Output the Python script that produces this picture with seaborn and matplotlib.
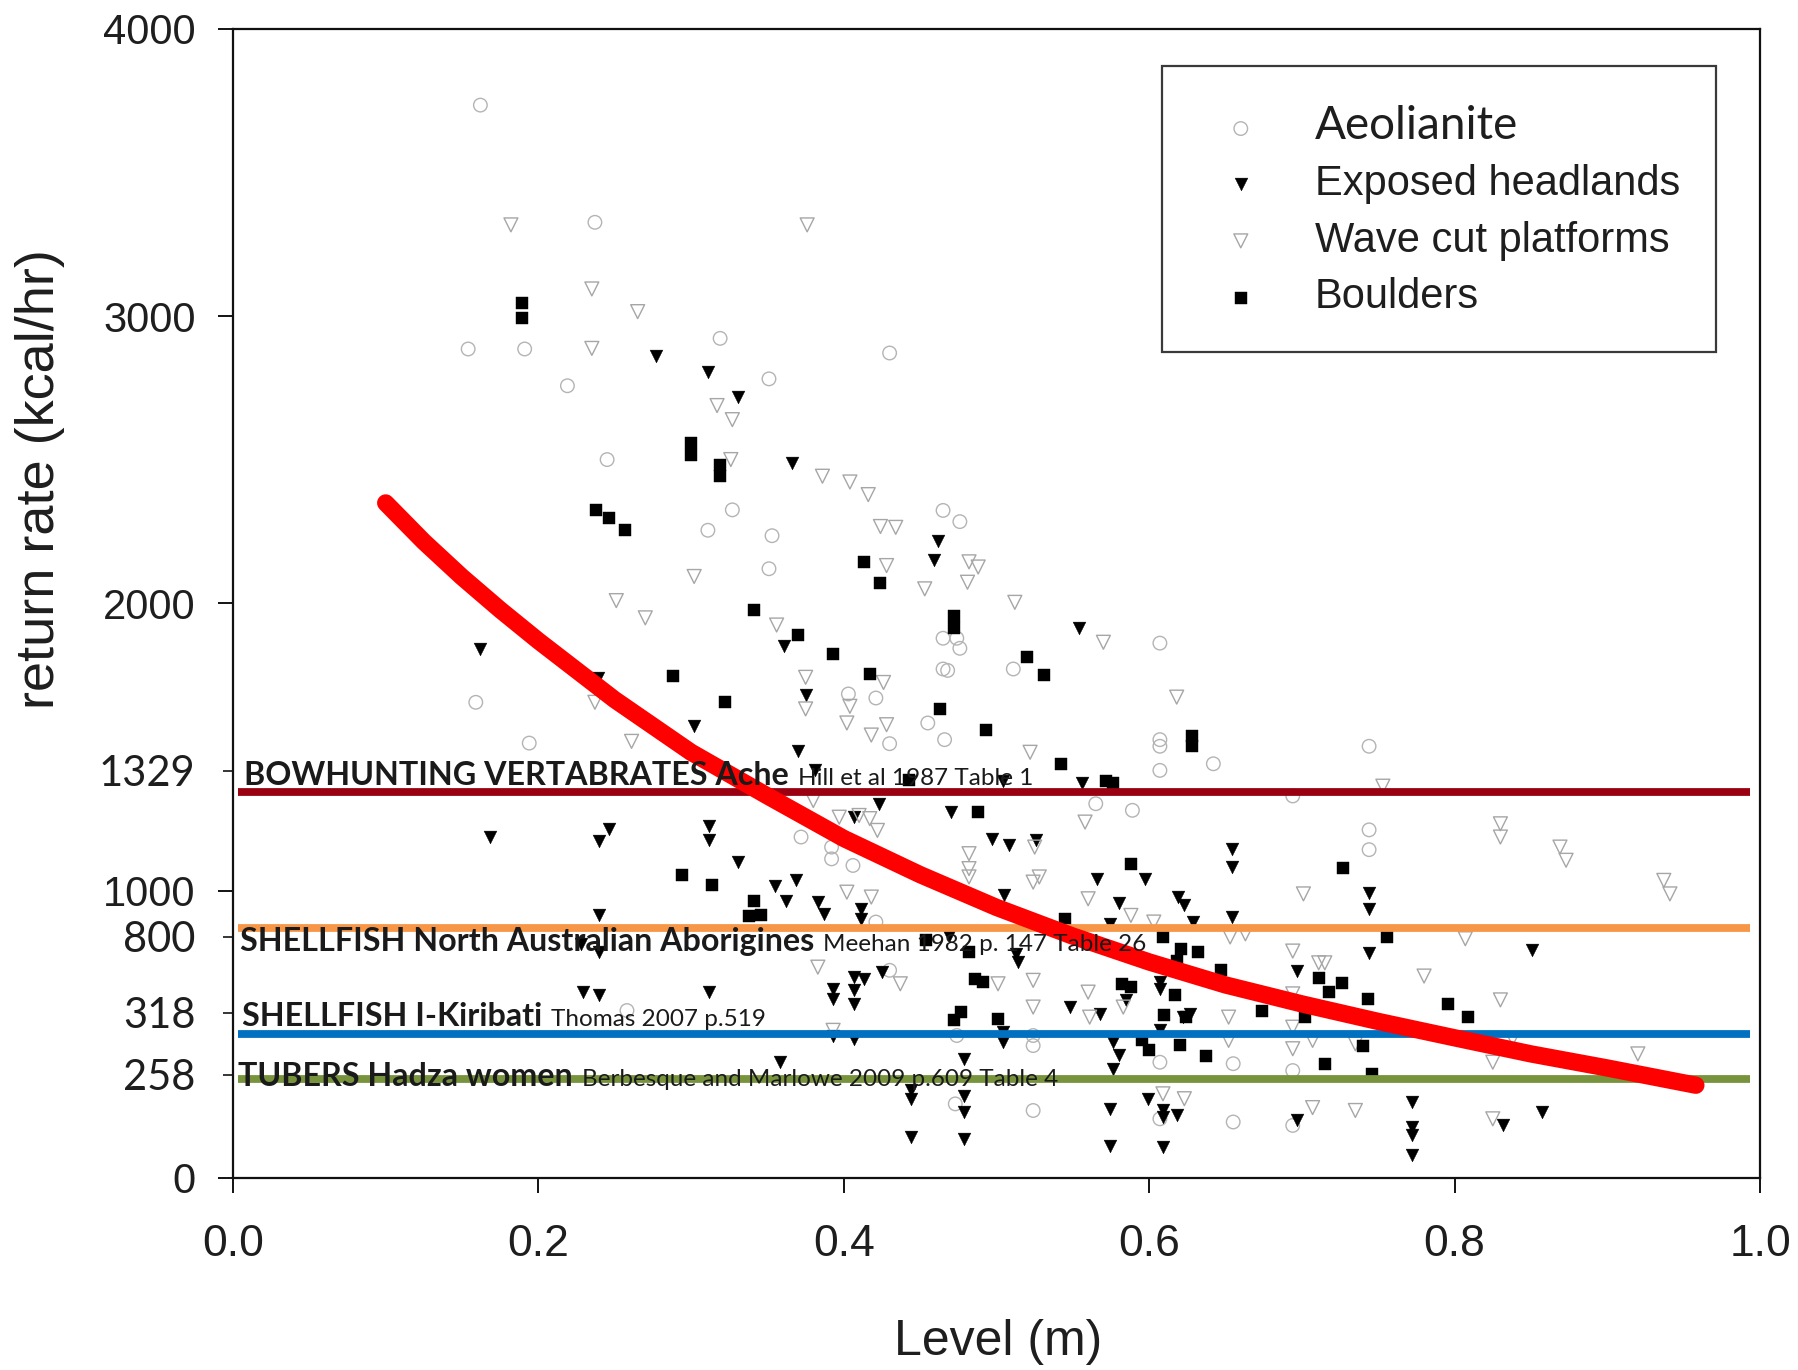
import matplotlib
matplotlib.use("Agg")
import matplotlib.pyplot as plt
import seaborn as sns
import pandas as pd
from matplotlib.patches import Rectangle

# ---------------- data ----------------
aeol_x = [0.162, 0.237, 0.154, 0.191, 0.219, 0.319, 0.430, 0.351, 0.245, 0.327, 0.311, 0.159, 0.194,
          0.465, 0.476, 0.353, 0.351, 0.465, 0.474, 0.476, 0.607, 0.511, 0.465, 0.468, 0.403, 0.421,
          0.455, 0.430, 0.466, 0.607, 0.607, 0.642, 0.607, 0.744, 0.694, 0.258, 0.372, 0.392, 0.392,
          0.406, 0.421, 0.430, 0.565, 0.589, 0.473, 0.524, 0.607, 0.607, 0.655, 0.655, 0.474, 0.524,
          0.524, 0.744, 0.744, 0.694, 0.694]
aeol_y = [3735, 3327, 2886, 2886, 2758, 2923, 2872, 2782, 2501, 2326, 2255, 1656, 1514,
          2324, 2285, 2236, 2121, 1879, 1879, 1844, 1862, 1772, 1772, 1767, 1685, 1671,
          1584, 1512, 1526, 1526, 1503, 1442, 1419, 1503, 1330, 583, 1187, 1152, 1111,
          1088, 891, 723, 1303, 1280, 258, 235, 206, 403, 398, 195, 496, 461,
          496, 1212, 1143, 374, 183]

exposed_x = [0.277, 0.311, 0.331, 0.162, 0.239, 0.302, 0.366, 0.462, 0.459, 0.361, 0.554, 0.375, 0.370,
             0.381, 0.504, 0.556, 0.168, 0.246, 0.240, 0.312, 0.312, 0.331, 0.240, 0.228, 0.240, 0.229,
             0.240, 0.312, 0.423, 0.470, 0.497, 0.508, 0.526, 0.566, 0.597, 0.580, 0.619, 0.623, 0.654,
             0.654, 0.654, 0.629, 0.574, 0.505, 0.355, 0.369, 0.362, 0.383, 0.387, 0.411, 0.411, 0.407,
             0.469, 0.513, 0.514, 0.407, 0.413, 0.425, 0.393, 0.393, 0.407, 0.407, 0.548, 0.568, 0.585,
             0.607, 0.607, 0.627, 0.622, 0.393, 0.407, 0.358, 0.479, 0.504, 0.504, 0.576, 0.580, 0.576,
             0.607, 0.444, 0.444, 0.479, 0.479, 0.574, 0.599, 0.609, 0.609, 0.618, 0.444, 0.479, 0.574,
             0.609, 0.744, 0.744, 0.744, 0.851, 0.697, 0.772, 0.772, 0.772, 0.772, 0.697, 0.857, 0.832]
exposed_y = [2863, 2807, 2718, 1843, 1741, 1575, 2489, 2219, 2152, 1851, 1916, 1681, 1485,
             1421, 1381, 1375, 1187, 1216, 1172, 1227, 1177, 1100, 914, 815, 786, 649,
             636, 649, 1303, 1274, 1181, 1158, 1175, 1042, 1042, 957, 978, 949, 1146,
             1082, 908, 891, 885, 984, 1018, 1036, 966, 960, 920, 937, 902, 1256,
             844, 781, 752, 699, 694, 717, 659, 624, 653, 607, 595, 572, 618,
             682, 659, 572, 560, 496, 485, 403, 415, 508, 473, 473, 427, 380,
             514, 305, 276, 287, 229, 241, 276, 235, 212, 218, 142, 137, 113,
             108, 992, 937, 783, 792, 720, 264, 177, 148, 79, 203, 229, 186]

wave_x = [0.182, 0.235, 0.265, 0.235, 0.317, 0.376, 0.327, 0.326, 0.302, 0.251, 0.270, 0.237, 0.261,
          0.386, 0.404, 0.416, 0.424, 0.434, 0.428, 0.482, 0.488, 0.481, 0.453, 0.512, 0.356, 0.570,
          0.375, 0.426, 0.375, 0.404, 0.402, 0.428, 0.418, 0.618, 0.522, 0.753, 0.380, 0.397, 0.410,
          0.417, 0.422, 0.482, 0.482, 0.482, 0.525, 0.524, 0.528, 0.402, 0.418, 0.558, 0.560, 0.588,
          0.603, 0.653, 0.663, 0.383, 0.437, 0.501, 0.524, 0.560, 0.524, 0.583, 0.561, 0.652, 0.652,
          0.393, 0.609, 0.623, 0.830, 0.830, 0.869, 0.873, 0.937, 0.941, 0.701, 0.694, 0.711, 0.715,
          0.780, 0.807, 0.694, 0.694, 0.707, 0.694, 0.735, 0.830, 0.825, 0.838, 0.920, 0.707, 0.735,
          0.825]
wave_y = [3318, 3095, 3016, 2888, 2689, 3318, 2640, 2501, 2094, 2010, 1950, 1656, 1520,
          2443, 2423, 2379, 2268, 2265, 2132, 2145, 2127, 2074, 2051, 2004, 1925, 1865,
          1743, 1725, 1633, 1642, 1584, 1578, 1542, 1674, 1482, 1364, 1314, 1256, 1262,
          1251, 1210, 1129, 1077, 1048, 1152, 1030, 1048, 995, 978, 1239, 972, 914,
          891, 839, 850, 734, 676, 676, 688, 647, 595, 595, 560, 560, 479,
          514, 293, 276, 1233, 1187, 1152, 1106, 1036, 989, 989, 790, 749, 749,
          703, 833, 641, 525, 479, 450, 467, 620, 403, 485, 432, 245, 235,
          206]

boulder_x = [0.189, 0.189, 0.300, 0.300, 0.319, 0.319, 0.238, 0.246, 0.257, 0.288, 0.322,
             0.413, 0.424, 0.341, 0.472, 0.472, 0.370, 0.393, 0.520, 0.531, 0.417, 0.463, 0.493,
             0.542, 0.628, 0.628, 0.443, 0.572, 0.576, 0.294, 0.314,
             0.488, 0.588, 0.341, 0.338, 0.346, 0.545, 0.454, 0.482, 0.486, 0.491, 0.582, 0.588,
             0.621, 0.632, 0.618, 0.647, 0.617, 0.477, 0.472, 0.501, 0.610, 0.624, 0.595, 0.600,
             0.620, 0.637, 0.609, 0.727, 0.756, 0.711, 0.726, 0.718, 0.743, 0.796, 0.809, 0.674,
             0.702, 0.740, 0.715, 0.746]
boulder_y = [3046, 2993, 2559, 2518, 2483, 2443, 2326, 2296, 2257, 1746, 1656,
             2145, 2071, 1978, 1955, 1915, 1890, 1823, 1815, 1750, 1754, 1633, 1558,
             1442, 1537, 1503, 1387, 1381, 1375, 1056, 1021,
             1274, 1094, 966, 911, 914, 902, 827, 786, 694, 682, 676, 665,
             798, 786, 757, 725, 636, 578, 549, 554, 566, 560, 479, 444,
             462, 423, 839, 1080, 839, 696, 680, 649, 624, 607, 562, 583,
             560, 461, 398, 363]

# fitted return-rate curve
curve_x = [0.100, 0.125, 0.150, 0.175, 0.200, 0.250, 0.300, 0.350, 0.400, 0.450, 0.500, 0.550,
           0.600, 0.650, 0.700, 0.750, 0.800, 0.850, 0.900, 0.958]
curve_y = [2350, 2215, 2092, 1978, 1870, 1665, 1482, 1330, 1182, 1056, 942, 842,
           752, 672, 606, 545, 488, 432, 383, 323]

series_names = ["Aeolianite", "Exposed headlands", "Wave cut platforms", "Boulders"]

# benchmark lines pasted on the chart
bench_bold = ["BOWHUNTING VERTABRATES Ache", "SHELLFISH North Australian Aborigines",
              "SHELLFISH I-Kiribati", "TUBERS Hadza women"]
bench_source = ["Hill et al 1987 Table 1", "Meehan 1982 p. 147 Table 26",
                "Thomas 2007 p.519", "Berbesque and Marlowe 2009 p.609 Table 4"]
bench_value_label = ["1329", "800", "318", "258"]
bench_line_level = [1345, 871, 502, 346]     # where each line sits on the drawn axis
bench_tick_level = [1418, 840, 576, 360]     # where each pasted value label sits
bench_colors = ["#990011", "#F79646", "#0070C0", "#77933C"]

x_ticks = [0.0, 0.2, 0.4, 0.6, 0.8, 1.0]
y_ticks = [0, 1000, 2000, 3000, 4000]

# ---------------- styling / layout ----------------
sns.set_style("ticks")
plt.rcParams["font.family"] = ["Liberation Sans", "DejaVu Sans"]
TXT = "#1e1e1e"

fig = plt.figure(figsize=(17.98, 13.70), dpi=100)
ax = fig.add_axes([0.12959, 0.14015, 0.84928, 0.83869])

df = pd.concat([
    pd.DataFrame({"x": aeol_x, "y": aeol_y, "kind": series_names[0]}),
    pd.DataFrame({"x": exposed_x, "y": exposed_y, "kind": series_names[1]}),
    pd.DataFrame({"x": wave_x, "y": wave_y, "kind": series_names[2]}),
    pd.DataFrame({"x": boulder_x, "y": boulder_y, "kind": series_names[3]}),
])

styles = {
    "Aeolianite": dict(marker="o", s=95, facecolor="none", edgecolor="#b4b4b4", linewidth=1.0),
    "Exposed headlands": dict(marker="v", s=85, color="black", edgecolor="black", linewidth=0.3),
    "Wave cut platforms": dict(marker="v", s=100, facecolor="none", edgecolor="#a6a6a6", linewidth=1.0),
    "Boulders": dict(marker="s", s=66, color="black", edgecolor="black", linewidth=0.3),
}
for name in series_names:
    sub = df[df["kind"] == name]
    sns.scatterplot(data=sub, x="x", y="y", ax=ax, label=name, zorder=2, **styles[name])

for lvl, col in zip(bench_line_level, bench_colors):
    ax.axhline(lvl, xmin=0.0035, xmax=0.9935, color=col, lw=5.6, zorder=3, solid_capstyle="butt")

sns.lineplot(x=curve_x, y=curve_y, ax=ax, color="#ff0000", lw=12.5, sort=False,
             estimator=None, zorder=4, solid_capstyle="round", solid_joinstyle="round", legend=False)

ax.set_xlim(0, 1.0)
ax.set_ylim(0, 4000)
ax.set_xticks(x_ticks)
ax.set_xticklabels([f"{v:.1f}" for v in x_ticks])
ax.set_yticks(y_ticks)
ax.set_yticklabels([str(v) for v in y_ticks])
ax.set_yticks(bench_tick_level, minor=True)
ax.set_yticklabels(bench_value_label, minor=True)
ax.xaxis.set_minor_locator(matplotlib.ticker.NullLocator())

ax.tick_params(axis="both", which="major", direction="out", length=11, width=1.3,
               colors="black", labelcolor=TXT)
ax.tick_params(axis="x", which="major", labelsize=32, pad=22)
ax.tick_params(axis="y", which="major", labelsize=30, pad=16)
ax.tick_params(axis="y", which="minor", direction="out", length=7, width=1.3,
               labelsize=30, pad=20, labelcolor=TXT)
for t in ax.get_yticklabels(minor=True):
    t.set_fontfamily(["Lato", "DejaVu Sans"])

for sp in ax.spines.values():
    sp.set_visible(True)
    sp.set_color("#111111")
    sp.set_linewidth(1.6)

ax.set_xlabel("Level (m)", fontsize=36, color=TXT, va="center")
ax.xaxis.set_label_coords(0.501, -0.1427)
ax.set_ylabel("return rate (kcal/hr)", fontsize=39, color=TXT, va="center")
ax.yaxis.set_label_coords(-0.1264, 0.608)

# benchmark texts
label_baseline = [1369, 790, 529, 320]
label_x = [0.0072, 0.0046, 0.006, 0.0033]
bold_texts = []
for bt, bx, by in zip(bench_bold, label_x, label_baseline):
    t = ax.text(bx, by, bt, fontsize=23.2, fontweight="bold", family=["Lato", "DejaVu Sans"],
                color="#1a1a1a", va="baseline", ha="left", zorder=6)
    bold_texts.append(t)
fig.canvas.draw()
renderer = fig.canvas.get_renderer()
inv = ax.transData.inverted()
for t, src, by in zip(bold_texts, bench_source, label_baseline):
    bb = t.get_window_extent(renderer)
    xr = inv.transform((bb.x1 + 9, 0))[0]
    ax.text(xr, by, src, fontsize=17.5, family=["Lato", "DejaVu Sans"], color="#1a1a1a",
            va="baseline", ha="left", zorder=6)

# legend
leg = ax.legend(loc="upper left", bbox_to_anchor=(0.6785, 0.9230), bbox_transform=fig.transFigure,
                frameon=False, fontsize=30, borderpad=0, handlelength=1.0, handletextpad=1.27,
                labelspacing=0.40, borderaxespad=0)
for txt in leg.get_texts():
    txt.set_color(TXT)
leg.get_texts()[0].set_fontfamily(["Lato", "DejaVu Sans"])
leg.get_texts()[0].set_fontsize(33)

fig.add_artist(Rectangle((0.6463, 0.7431), 0.3081, 0.2087, transform=fig.transFigure,
                         fill=False, edgecolor="#3a3a3a", linewidth=1.6))

fig.savefig("out.png", dpi=100, facecolor="white")
